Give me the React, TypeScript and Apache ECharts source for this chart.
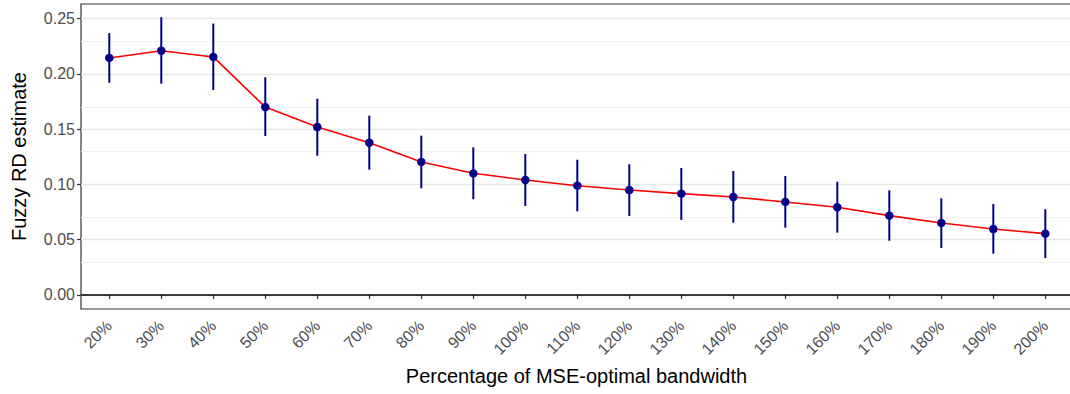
import React, { useEffect, useRef } from "react";
import * as echarts from "echarts";

const categories = ["20%", "30%", "40%", "50%", "60%", "70%", "80%", "90%", "100%", "110%", "120%", "130%", "140%", "150%", "160%", "170%", "180%", "190%", "200%"];
const estimates = [0.2145, 0.221, 0.2154, 0.170, 0.152, 0.1378, 0.1204, 0.1101, 0.1041, 0.0989, 0.0950, 0.0917, 0.0887, 0.0842, 0.0794, 0.0718, 0.0652, 0.0597, 0.0555];
const upper = [0.237, 0.2513, 0.2456, 0.197, 0.1777, 0.1623, 0.1442, 0.1336, 0.1276, 0.1224, 0.1183, 0.1149, 0.1122, 0.1077, 0.1025, 0.0947, 0.0875, 0.0824, 0.0776];
const lower = [0.192, 0.1912, 0.1855, 0.1439, 0.126, 0.1134, 0.0965, 0.0866, 0.0805, 0.0757, 0.0715, 0.0679, 0.0654, 0.0609, 0.0564, 0.0491, 0.0425, 0.0374, 0.0335];
const yTicks = [0, 0.05, 0.1, 0.15, 0.2, 0.25];
const yMinor = [0.025, 0.075, 0.125, 0.175, 0.225];

export default function App() {
  const ref = useRef<HTMLDivElement>(null);
  useEffect(() => {
    document.body.style.margin = "0";
    const chart = echarts.init(ref.current!, null, { renderer: "svg" });
    const xs = categories.map((_, i) => i + 1);
    const font = "'Liberation Sans', Arial, Helvetica, sans-serif";
    chart.setOption({
      animation: false,
      grid: {
        left: 81,
        right: -2,
        top: 4,
        bottom: 85,
        show: true,
        outerBoundsMode: "none",
        containLabel: false,
        borderColor: "#333333",
        borderWidth: 1.2,
        backgroundColor: "#ffffff",
      },
      xAxis: {
        type: "value",
        min: 0.456,
        max: 19.513,
        name: "Percentage of MSE-optimal bandwidth",
        nameLocation: "middle",
        nameGap: 57,
        nameTextStyle: { color: "#000", fontSize: 20, fontFamily: font },
        axisLine: { show: false },
        axisTick: {
          show: true,
          customValues: xs,
          length: 4,
          lineStyle: { color: "#333333", width: 1.2 },
        },
        axisLabel: {
          customValues: xs,
          rotate: 45,
          margin: 14,
          color: "#4D4D4D",
          fontSize: 16,
          fontFamily: font,
          formatter: (v: number) => categories[Math.round(v) - 1] ?? "",
        },
        splitLine: { show: false },
      },
      yAxis: {
        type: "value",
        min: -0.01267,
        max: 0.2633,
        name: "Fuzzy RD estimate",
        nameLocation: "middle",
        nameGap: 52,
        nameTextStyle: { color: "#000", fontSize: 20, fontFamily: font },
        axisLine: { show: false },
        axisTick: {
          show: true,
          customValues: yTicks,
          length: 4,
          lineStyle: { color: "#333333", width: 1.2 },
        },
        axisLabel: {
          customValues: yTicks,
          margin: 6,
          color: "#4D4D4D",
          fontSize: 16,
          fontFamily: font,
          formatter: (v: number) => v.toFixed(2),
        },
        splitLine: { show: false },
      },
      series: [
        {
          type: "line",
          data: [],
          z: 0,
          silent: true,
          markLine: {
            silent: true,
            z: 0,
            symbol: "none",
            label: { show: false },
            animation: false,
            data: [
              ...yMinor.map((v) => ({ yAxis: v, lineStyle: { color: "#F2F2F2", width: 1, type: "solid" } })),
              ...yTicks.map((v) => ({ yAxis: v, lineStyle: { color: "#E8E8E8", width: 1.4, type: "solid" } })),
            ],
          },
        },
        {
          type: "line",
          data: [],
          z: 1,
          silent: true,
          markLine: {
            silent: true,
            z: 1,
            symbol: "none",
            label: { show: false },
            animation: false,
            data: [{ yAxis: 0, lineStyle: { color: "#000000", width: 1.6, type: "solid" } }],
          },
        },
        {
          type: "custom",
          z: 3,
          data: xs.map((x, i) => [x, lower[i], upper[i]]),
          encode: { x: 0, y: [1, 2] },
          renderItem: (params: any, api: any) => {
            const x = api.value(0);
            const lo = api.coord([x, api.value(1)]);
            const hi = api.coord([x, api.value(2)]);
            return {
              type: "line",
              shape: { x1: lo[0], y1: lo[1], x2: hi[0], y2: hi[1] },
              style: { stroke: "#00008B", lineWidth: 2 },
            };
          },
        },
        {
          type: "line",
          z: 4,
          data: xs.map((x, i) => [x, estimates[i]]),
          showSymbol: false,
          symbol: "none",
          lineStyle: { color: "#FF0000", width: 1.6 },
        },
        {
          type: "scatter",
          z: 5,
          data: xs.map((x, i) => [x, estimates[i]]),
          symbol: "circle",
          symbolSize: 8.5,
          itemStyle: { color: "#00008B", opacity: 1 },
        },
      ],
    });
    return () => chart.dispose();
  }, []);
  return <div ref={ref} style={{ width: 1070, height: 394 }} />;
}
